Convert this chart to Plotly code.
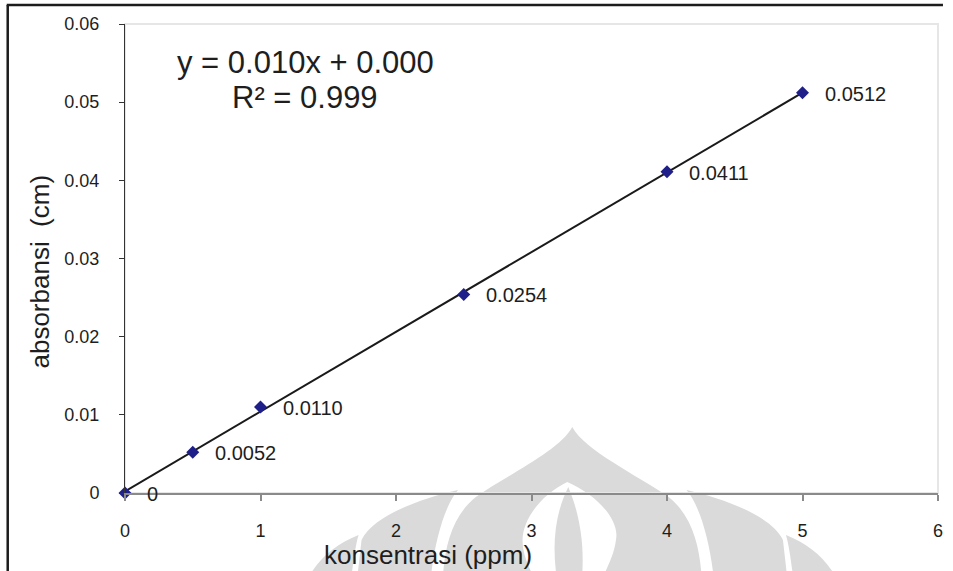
import numpy as np
import plotly.graph_objects as go

# Calibration data
konsentrasi = [0, 0.5, 1, 2.5, 4, 5]
absorbansi = [0, 0.0052, 0.0110, 0.0254, 0.0411, 0.0512]
point_labels = ["0", "0.0052", "0.0110", "0.0254", "0.0411", "0.0512"]
x_ticks = [0, 1, 2, 3, 4, 5, 6]
y_ticks = [0, 0.01, 0.02, 0.03, 0.04, 0.05, 0.06]
equation_text = "y = 0.010x + 0.000"
r2_text = "R² = 0.999"

FONT = "Arial, Liberation Sans, sans-serif"
TXT = "#1e1e1e"

# Linear trendline (least squares)
slope, intercept = np.polyfit(konsentrasi, absorbansi, 1)
trend_x = [min(konsentrasi), max(konsentrasi)]
trend_y = [slope * v + intercept for v in trend_x]

W, H = 953, 571
L, R, T, B = 125, 943, 24, 493


def px(x, y):
    """Pixel position -> paper coordinates string."""
    return f"{(x - L) / (R - L):.5f},{(B - y) / (B - T):.5f}"


def pxx(x):
    return (x - L) / (R - L)


def pxy(y):
    return (B - y) / (B - T)


fig = go.Figure()

fig.add_trace(go.Scatter(
    x=trend_x, y=trend_y, mode="lines",
    line=dict(color="#1a1a1a", width=2), hoverinfo="skip", showlegend=False,
    cliponaxis=False,
))
fig.add_trace(go.Scatter(
    x=konsentrasi, y=absorbansi, mode="markers",
    marker=dict(symbol="diamond", size=10, color="#1f1f8a",
                line=dict(width=0)),
    showlegend=False, cliponaxis=False,
))

annotations = []
for xv, yv, lab in zip(konsentrasi, absorbansi, point_labels):
    annotations.append(dict(
        x=xv, y=yv, xref="x", yref="y", text=lab, showarrow=False,
        xanchor="left", yanchor="middle", xshift=20, yshift=-1,
        font=dict(family=FONT, size=20, color=TXT),
    ))

annotations += [
    dict(x=pxx(307), y=pxy(62), xref="paper", yref="paper", text=equation_text,
         showarrow=False, xanchor="center", yanchor="middle",
         font=dict(family=FONT, size=31, color=TXT)),
    dict(x=pxx(306), y=pxy(97), xref="paper", yref="paper", text=r2_text,
         showarrow=False, xanchor="center", yanchor="middle",
         font=dict(family=FONT, size=31, color=TXT)),
    dict(x=pxx(39), y=pxy(272), xref="paper", yref="paper",
         text="absorbansi&nbsp;&nbsp;(cm)", textangle=-90,
         showarrow=False, xanchor="center", yanchor="middle",
         font=dict(family=FONT, size=26, color=TXT)),
    dict(x=pxx(430), y=pxy(555), xref="paper", yref="paper",
         text="konsentrasi (ppm)",
         showarrow=False, xanchor="center", yanchor="middle",
         font=dict(family=FONT, size=26, color=TXT)),
]

# Faint emblem printed behind the chart
GRAY = "#dadada"
c = 575

dome = (f"M{px(c, 427)} C{px(c + 12, 450)} {px(c + 65, 475)} {px(c + 97, 497)} "
        f"C{px(c + 120, 515)} {px(c + 128, 545)} {px(c + 130, 575)} "
        f"L{px(c - 130, 575)} C{px(c - 128, 545)} {px(c - 120, 515)} {px(c - 97, 497)} "
        f"C{px(c - 65, 475)} {px(c - 12, 450)} {px(c, 427)} Z")
lens = (f"M{px(c - 5, 482)} C{px(c + 25, 495)} {px(c + 48, 520)} {px(c + 44, 540)} "
        f"C{px(c + 42, 555)} {px(c + 36, 565)} {px(c + 32, 575)} "
        f"L{px(c - 40, 575)} C{px(c - 44, 565)} {px(c - 50, 555)} {px(c - 50, 540)} "
        f"C{px(c - 50, 520)} {px(c - 32, 495)} {px(c - 5, 482)} Z")
leaf = (f"M{px(c - 4, 487)} C{px(c - 18, 515)} {px(c - 20, 545)} {px(c - 16, 575)} "
        f"L{px(c + 10, 575)} C{px(c + 12, 545)} {px(c + 8, 515)} {px(c - 4, 487)} Z")


def wing(sign):
    def X(d):
        return c + sign * d
    w2 = (f"M{px(X(115), 490)} C{px(X(150), 498)} {px(X(200), 515)} {px(X(212), 540)} "
          f"L{px(X(216), 575)} L{px(X(142), 575)} "
          f"C{px(X(138), 540)} {px(X(128), 505)} {px(X(115), 490)} Z")
    w3 = (f"M{px(X(215), 535)} C{px(X(235), 543)} {px(X(252), 555)} {px(X(264), 575)} "
          f"L{px(X(222), 575)} C{px(X(220), 560)} {px(X(218), 545)} {px(X(215), 535)} Z")
    return [w2, w3]


emblem = [(dome, GRAY), (lens, "white"), (leaf, GRAY)]
for p in wing(1) + wing(-1):
    emblem.append((p, GRAY))

shapes = []
for path, col in emblem:
    shapes.append(dict(type="path", xref="paper", yref="paper", path=path,
                       fillcolor=col, line=dict(width=0), layer="below"))

# light plot-area border
shapes.append(dict(type="rect", xref="paper", yref="paper", x0=0, y0=0, x1=1, y1=1,
                   line=dict(color="#e6e6e6", width=2), layer="below"))
# outer frame (left and top edges)
shapes.append(dict(type="line", xref="paper", yref="paper",
                   x0=pxx(7), y0=pxy(5), x1=pxx(7), y1=pxy(580),
                   line=dict(color="#1c1c1c", width=2.5), layer="above"))
shapes.append(dict(type="line", xref="paper", yref="paper",
                   x0=pxx(6), y0=pxy(5), x1=pxx(948), y1=pxy(5),
                   line=dict(color="#1c1c1c", width=2.5), layer="above"))

fig.update_layout(
    width=W, height=H,
    margin=dict(l=L, r=W - R, t=T, b=H - B, pad=0),
    paper_bgcolor="white", plot_bgcolor="rgba(0,0,0,0)",
    font=dict(family=FONT, color=TXT),
    annotations=annotations, shapes=shapes,
    xaxis=dict(range=[0, 6], tickvals=x_ticks, showgrid=False, zeroline=False,
               showline=True, linecolor="#8a8a8a", linewidth=2,
               ticks="outside", ticklen=6, tickwidth=1.5, tickcolor="#8a8a8a",
               tickfont=dict(family=FONT, size=18, color=TXT),
               ticklabelstandoff=14),
    yaxis=dict(range=[0, 0.06], tickvals=y_ticks, showgrid=False, zeroline=False,
               showline=True, linecolor="#333333", linewidth=1,
               ticks="outside", ticklen=5, tickwidth=1, tickcolor="#333333",
               tickfont=dict(family=FONT, size=18, color=TXT),
               ticklabelstandoff=16),
)

fig.write_html("out.html")
